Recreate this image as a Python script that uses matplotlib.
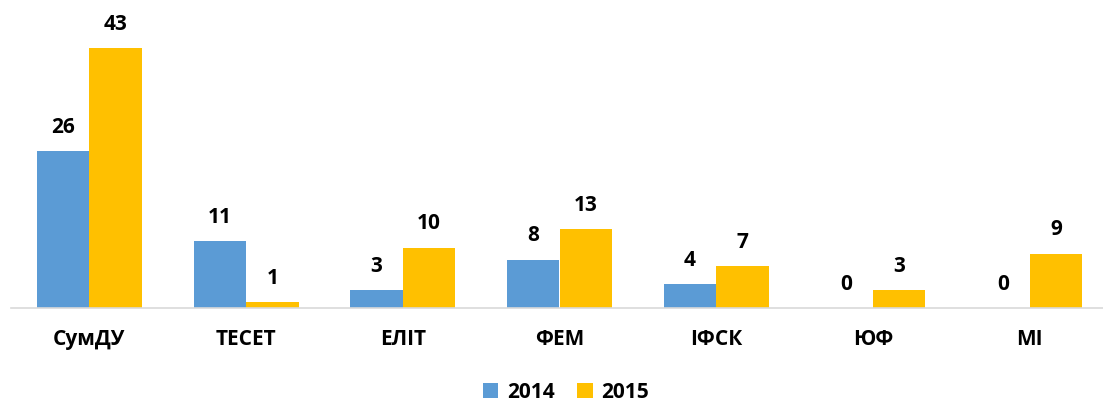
import matplotlib
matplotlib.use("Agg")
import matplotlib.pyplot as plt
import numpy as np

categories = ["СумДУ", "ТЕСЕТ", "ЕЛІТ", "ФЕМ", "ІФСК", "ЮФ", "МІ"]
values_2014 = [26, 11, 3, 8, 4, 0, 0]
values_2015 = [43, 1, 10, 13, 7, 3, 9]
series_names = ["2014", "2015"]

plt.rcParams['font.family'] = ['Open Sans', 'DejaVu Sans']
fig = plt.figure(figsize=(11.03, 4.01), dpi=100)
ax = fig.add_axes([11/1103, 1 - 308/401, 1097/1103, 308/401])

x = np.arange(len(categories))
w = 0.335
c1, c2 = "#5B9BD5", "#FFC000"
b1 = ax.bar(x - w/2, values_2014, w, color=c1, label=series_names[0])
b2 = ax.bar(x + w/2, values_2015, w, color=c2, label=series_names[1])

for bars, vals in ((b1, values_2014), (b2, values_2015)):
    for rect, v in zip(bars, vals):
        ax.annotate(str(v), (rect.get_x() + rect.get_width()/2, v),
                    xytext=(0, 17), textcoords="offset points",
                    ha="center", va="center", fontsize=15, fontweight="bold")

ax.set_xlim(-0.5, len(categories) - 0.5)
ax.set_ylim(0, 308/6.05)
ax.set_xticks(x)
ax.set_xticklabels(categories, fontsize=15, fontweight="bold")
ax.tick_params(axis="x", length=0, pad=15)
ax.set_yticks([])
for s in ["top", "right", "left"]:
    ax.spines[s].set_visible(False)
ax.spines["bottom"].set_color("#D9D9D9")
ax.spines["bottom"].set_linewidth(1.2)

leg = fig.legend(handles=[b1, b2], labels=series_names, loc="center",
                 bbox_to_anchor=(566/1103, 1 - 392/401), ncol=2, frameon=False,
                 prop={"size": 15, "weight": "bold"}, handlelength=0.75,
                 handleheight=0.75, handletextpad=0.4, columnspacing=1.1)

fig.savefig("out.png", dpi=100)
